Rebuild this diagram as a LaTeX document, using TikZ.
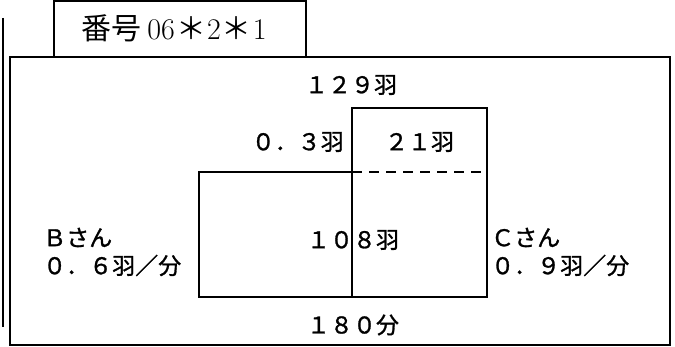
\documentclass[tikz,border=0pt]{standalone}
\usepackage{fontspec}
\newfontfamily\cjk[FakeBold=1.2]{Noto Sans CJK JP}
\newfontfamily\cjktitle{Noto Sans CJK JP}
\usetikzlibrary{positioning}

\begin{document}
\begin{tikzpicture}[x=1pt,y=-1pt,
    lbl/.style={font=\cjk\fontsize{23}{28}\selectfont, inner sep=0pt},
    edge/.style={line width=2pt}]
    \useasboundingbox (0,0) rectangle (675,347);
    % frames
    \draw[line width=2.5pt] (3,18) -- (3,327);
    \draw[line width=1.5pt] (54,1) rectangle (306,57);
    \node[inner sep=0pt,font=\fontsize{30}{32}\selectfont] (title) at (174,28) {{\cjktitle 番号}\hspace{6pt}06\hspace{1pt}{\cjktitle ＊}\hspace{1pt}2\hspace{1pt}{\cjktitle ＊}\hspace{1pt}1};
    \draw[edge] (10,57) rectangle (670,345);
    % areas
    \draw[edge] (199,172) rectangle (352,297);
    \draw[edge] (352,108) rectangle (487,297);
    \draw[edge,dash pattern=on 10pt off 7pt] (352,172) -- (487,172);
    % labels
    \node[lbl] (total) at (351,85) {１２９羽};
    \node[lbl,anchor=east] (diff) at (344,142) {０．３羽};
    \node[lbl] (extra) at (419.5,142) {２１羽};
    \node[lbl] (both) at (353,240) {１０８羽};
    \node[lbl] (time) at (353,325) {１８０分};
    \node[lbl,anchor=west,align=left] (bsan) at (43,252) {Ｂさん\\０．６羽／分};
    \node[lbl,anchor=west,align=left] (csan) at (491,252) {Ｃさん\\０．９羽／分};
\end{tikzpicture}
\end{document}
